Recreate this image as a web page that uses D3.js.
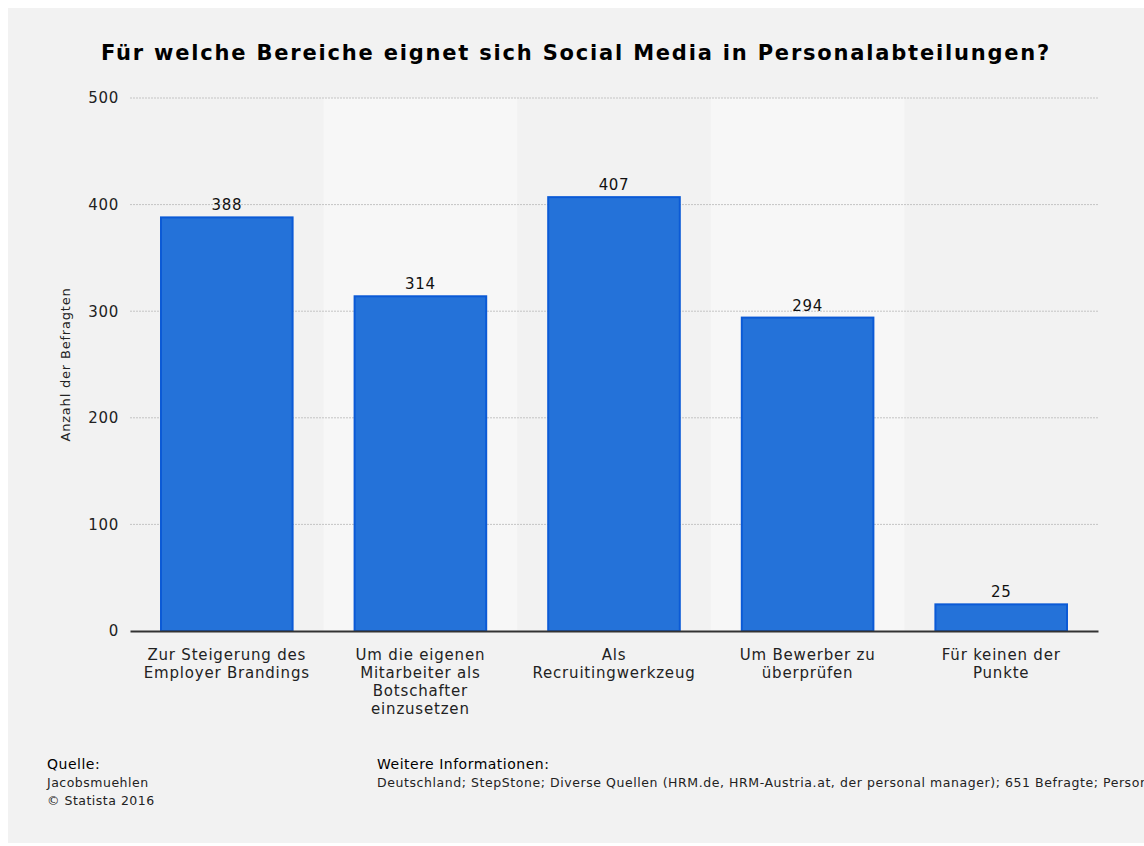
<!DOCTYPE html>
<html>
<head>
<meta charset="utf-8">
<script src="https://cdn.jsdelivr.net/npm/d3@7"></script>
<style>
  body { margin: 0; background: #fff; }
  svg { display: block; font-family: "DejaVu Sans", sans-serif; }
</style>
</head>
<body>
<div id="chart"></div>
<script>
var categories = [
  ["Zur Steigerung des", "Employer Brandings"],
  ["Um die eigenen", "Mitarbeiter als", "Botschafter", "einzusetzen"],
  ["Als", "Recruitingwerkzeug"],
  ["Um Bewerber zu", "überprüfen"],
  ["Für keinen der", "Punkte"]
];
var values = [388, 314, 407, 294, 25];
var yTicks = [0, 100, 200, 300, 400, 500];

var W = 1144, H = 846;
var margin = {top: 98, right: 46, bottom: 215, left: 130};
var width = W - margin.left - margin.right,
    height = H - margin.top - margin.bottom;

var svg = d3.select("#chart").append("svg")
    .attr("width", W).attr("height", H);

svg.append("rect").attr("x", 8).attr("y", 8)
    .attr("width", W - 8).attr("height", 835).attr("fill", "#f2f2f2");

svg.append("text")
    .attr("x", 576).attr("y", 60)
    .attr("text-anchor", "middle")
    .attr("font-size", 21).attr("font-weight", "bold").attr("fill", "#000")
    .attr("letter-spacing", 1.8)
    .text("Für welche Bereiche eignet sich Social Media in Personalabteilungen?");

var g = svg.append("g")
    .attr("transform", "translate(" + margin.left + "," + margin.top + ")");

var x = d3.scaleBand()
    .domain(d3.range(categories.length))
    .range([0, width])
    .paddingInner(0)
    .paddingOuter(0);
var y = d3.scaleLinear().domain([0, 500]).range([height, 0]);

// alternating stripes
g.selectAll(".stripe")
    .data(d3.range(categories.length).filter(function(i) { return i % 2 === 1; }))
  .enter().append("rect")
    .attr("x", function(i) { return x(i); })
    .attr("y", 0)
    .attr("width", x.bandwidth())
    .attr("height", height)
    .attr("fill", "#f7f7f7");

// gridlines
g.selectAll(".grid")
    .data(yTicks.slice(1))
  .enter().append("line")
    .attr("x1", 0).attr("x2", width)
    .attr("y1", function(d) { return y(d); })
    .attr("y2", function(d) { return y(d); })
    .attr("stroke", "#c4c4c4")
    .attr("stroke-dasharray", "2,1");

// y axis
var yAxis = g.append("g")
    .call(d3.axisLeft(y).tickValues(yTicks).tickSize(0).tickPadding(11));
yAxis.select(".domain").remove();
yAxis.selectAll("text")
    .attr("font-family", "DejaVu Sans, sans-serif")
    .attr("font-size", 15).attr("fill", "#222")
    .attr("letter-spacing", 0.7);

svg.append("text")
    .attr("transform", "translate(70," + (margin.top + height / 2) + ") rotate(-90)")
    .attr("text-anchor", "middle")
    .attr("font-size", 13).attr("fill", "#222")
    .attr("letter-spacing", 0.8)
    .text("Anzahl der Befragten");

// bars
var barPad = 31;
g.selectAll(".bar")
    .data(values)
  .enter().append("rect")
    .attr("x", function(d, i) { return x(i) + barPad; })
    .attr("y", function(d) { return y(d); })
    .attr("width", x.bandwidth() - 2 * barPad)
    .attr("height", function(d) { return height - y(d); })
    .attr("fill", "#2472d9")
    .attr("stroke", "#0b5ad6")
    .attr("stroke-width", 2);

g.selectAll(".val")
    .data(values)
  .enter().append("text")
    .attr("x", function(d, i) { return x(i) + x.bandwidth() / 2; })
    .attr("y", function(d) { return y(d) - 7; })
    .attr("text-anchor", "middle")
    .attr("font-size", 15).attr("fill", "#111")
    .attr("letter-spacing", 0.7)
    .text(function(d) { return d; });

// x axis
var xAxis = g.append("g")
    .attr("transform", "translate(0," + height + ")")
    .call(d3.axisBottom(x).tickSize(0).tickFormat(""));
xAxis.select(".domain").attr("stroke", "#333").attr("stroke-width", 2);

g.selectAll(".cat")
    .data(categories)
  .enter().append("text")
    .attr("x", function(d, i) { return x(i) + x.bandwidth() / 2; })
    .attr("y", height + 29)
    .attr("text-anchor", "middle")
    .attr("font-size", 15).attr("fill", "#222")
    .attr("letter-spacing", 0.8)
    .each(function(d, i) {
      var t = d3.select(this);
      d.forEach(function(line, j) {
        t.append("tspan")
          .attr("x", x(i) + x.bandwidth() / 2)
          .attr("dy", j === 0 ? 0 : 18)
          .text(line);
      });
    });

// footer
var foot = svg.append("g").attr("letter-spacing", 0.5);
foot.append("text").attr("x", 47).attr("y", 769)
    .attr("font-size", 14).attr("fill", "#000").text("Quelle:");
foot.append("text").attr("x", 47).attr("y", 787)
    .attr("font-size", 12.5).attr("fill", "#222").text("Jacobsmuehlen");
foot.append("text").attr("x", 47).attr("y", 805)
    .attr("font-size", 12.5).attr("fill", "#222").text("© Statista 2016");
foot.append("text").attr("x", 377).attr("y", 769)
    .attr("font-size", 14).attr("fill", "#000").text("Weitere Informationen:");
foot.append("text").attr("x", 377).attr("y", 787)
    .attr("font-size", 12.5).attr("fill", "#222")
    .attr("letter-spacing", 0.57)
    .text("Deutschland; StepStone; Diverse Quellen (HRM.de, HRM-Austria.at, der personal manager); 651 Befragte; Personalverantwortliche");
</script>
</body>
</html>
